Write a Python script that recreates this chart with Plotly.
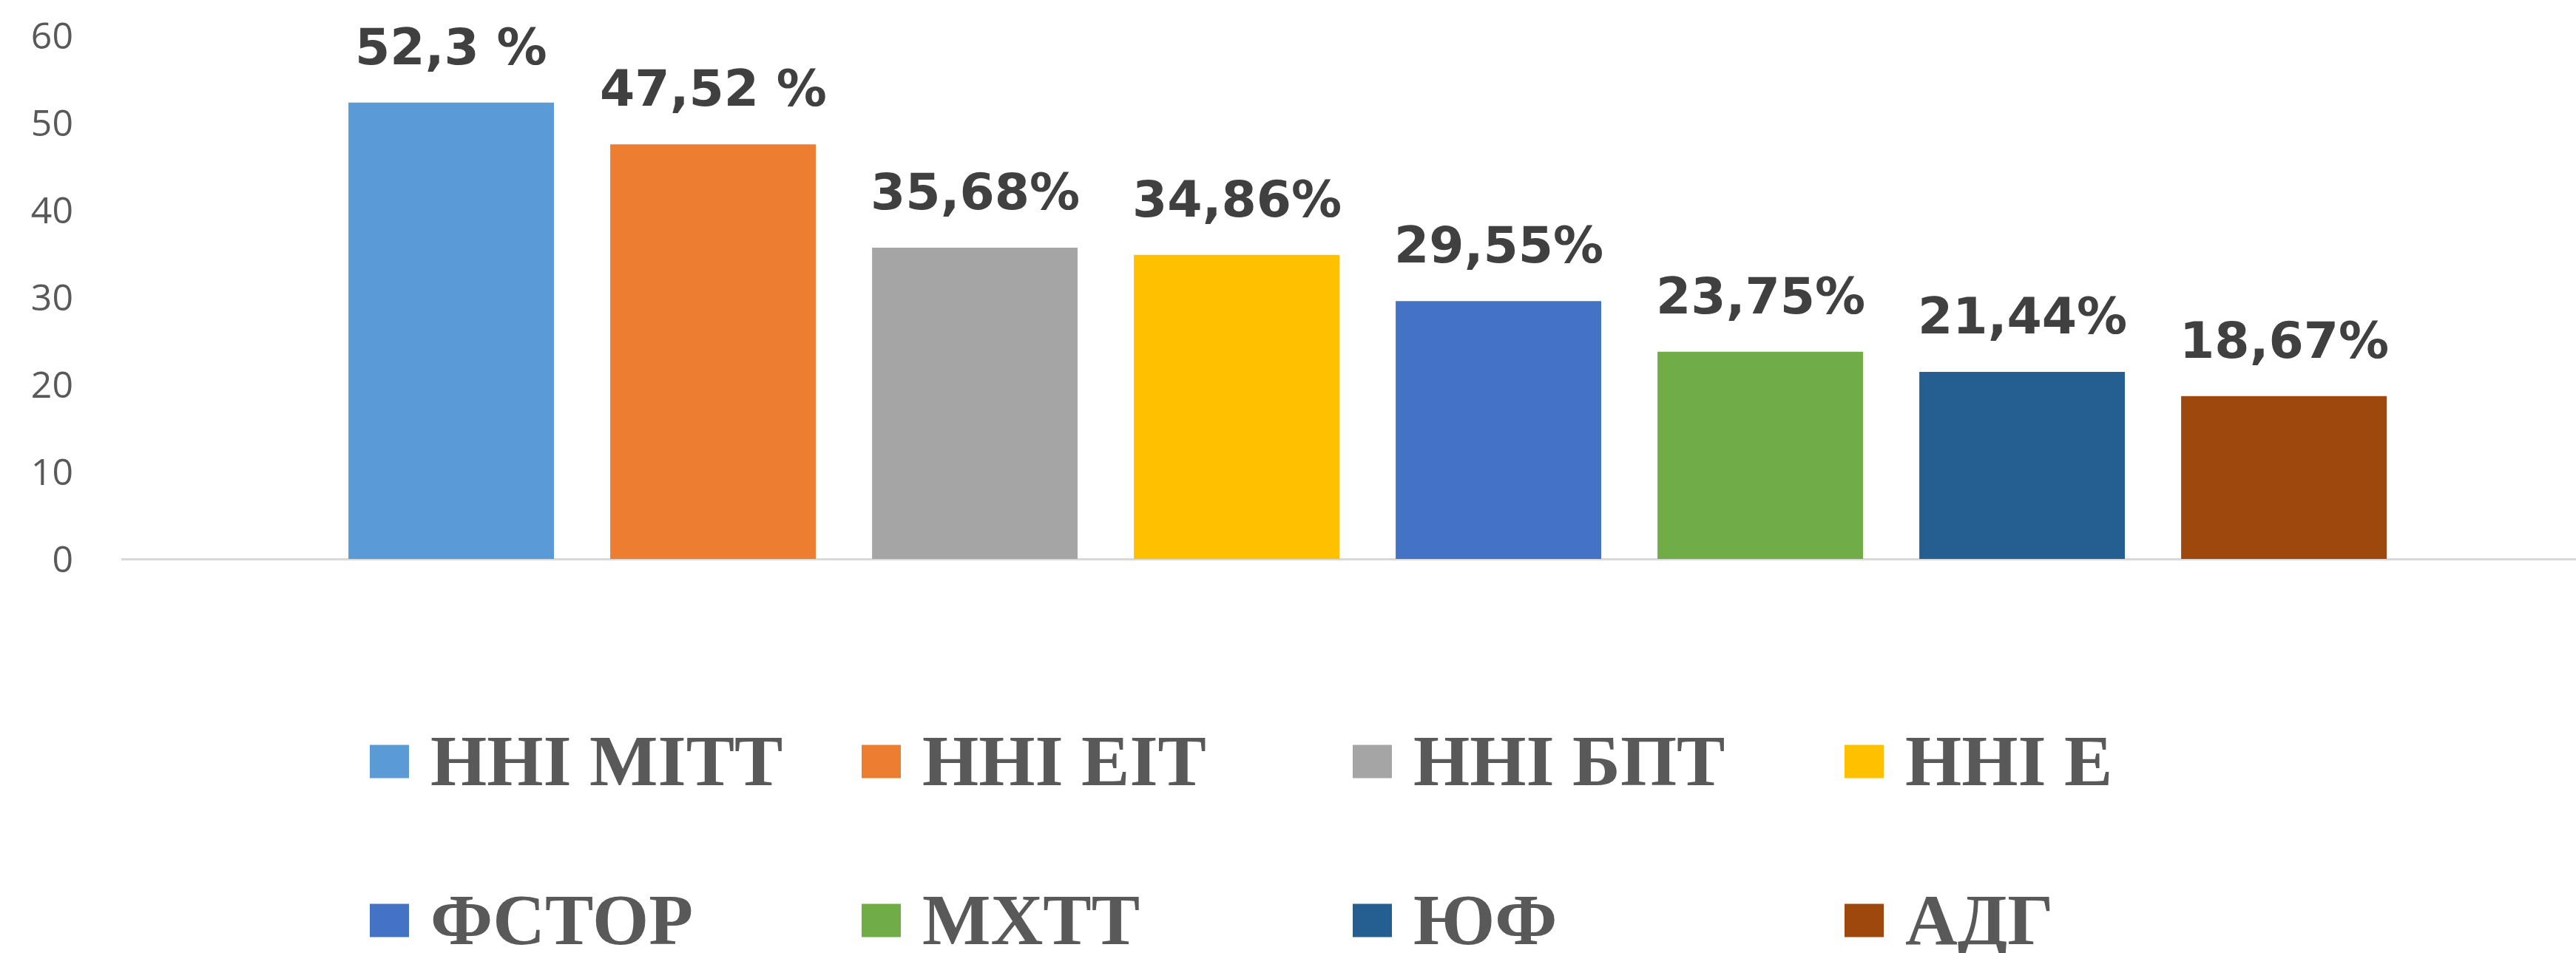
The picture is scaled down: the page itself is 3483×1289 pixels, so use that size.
import plotly.graph_objects as go

categories = ["ННІ МІТТ", "ННІ ЕІТ", "ННІ БПТ", "ННІ Е", "ФСТОР", "МХТТ", "ЮФ", "АДГ"]
values = [52.3, 47.52, 35.68, 34.86, 29.55, 23.75, 21.44, 18.67]
labels = ["52,3 %", "47,52 %", "35,68%", "34,86%", "29,55%", "23,75%", "21,44%", "18,67%"]
colors = ["#5B9BD5", "#ED7D31", "#A5A5A5", "#FFC000", "#4472C4", "#70AD47", "#255E91", "#9E480E"]
y_ticks = [0, 10, 20, 30, 40, 50, 60]

W, H = 3483, 1289
ML, MR, MT, MB = 164, 0, 48, 533
PW, PH = W - ML - MR, H - MT - MB

def px_to_paper_x(px):
    return (px - ML) / PW

def px_to_paper_y(py):
    return (H - MB - py) / PH

fig = go.Figure()
fig.add_trace(go.Bar(
    x=categories, y=values, marker=dict(color=colors, line=dict(width=0)),
    showlegend=False, hoverinfo="skip",
))

annotations = []
for c, v, t in zip(categories, values, labels):
    annotations.append(dict(
        x=c, y=v, xref="x", yref="y", text=t, showarrow=False,
        yanchor="bottom", xanchor="center", yshift=34,
        font=dict(family="DejaVu Sans", size=68, color="#404040", weight="bold"),
    ))

# manual legend: 2 rows x 4 columns
shapes = []
col_x = [500, 1165, 1829, 2494]
row_y = [1030, 1245]
sw_w, sw_h = 53, 45
for i, (c, col) in enumerate(zip(categories, colors)):
    r, k = divmod(i, 4)
    x0 = col_x[k]
    yc = row_y[r]
    shapes.append(dict(
        type="rect", xref="paper", yref="paper",
        x0=px_to_paper_x(x0), x1=px_to_paper_x(x0 + sw_w),
        y0=px_to_paper_y(yc + sw_h / 2), y1=px_to_paper_y(yc - sw_h / 2),
        fillcolor=col, line=dict(width=0), layer="above",
    ))
    annotations.append(dict(
        x=px_to_paper_x(x0 + 80), y=px_to_paper_y(yc - 1), xref="paper", yref="paper",
        text=c, showarrow=False, xanchor="left", yanchor="middle",
        font=dict(family="Liberation Serif", size=98, color="#595959", weight="bold"),
    ))

fig.update_layout(
    width=W, height=H,
    margin=dict(l=ML, r=MR, t=MT, b=MB, pad=0),
    paper_bgcolor="white", plot_bgcolor="white",
    bargap=0.215,
    xaxis=dict(
        range=[-1.26, -1.26 + PW / 354.0], showticklabels=False, ticks="",
        showgrid=False, zeroline=False, showline=False,
    ),
    yaxis=dict(
        range=[0, 60], tickvals=y_ticks, ticks="", showgrid=False,
        zeroline=True, zerolinecolor="#D9D9D9", zerolinewidth=3,
        showline=False, ticklabelstandoff=64,
        tickfont=dict(family="Open Sans", size=50, color="#595959"),
    ),
    annotations=annotations, shapes=shapes,
)

fig.write_html(
    "out.html",
    config={"displayModeBar": False},
    post_script="document.body.style.margin='0';document.body.style.overflow='hidden';",
)
